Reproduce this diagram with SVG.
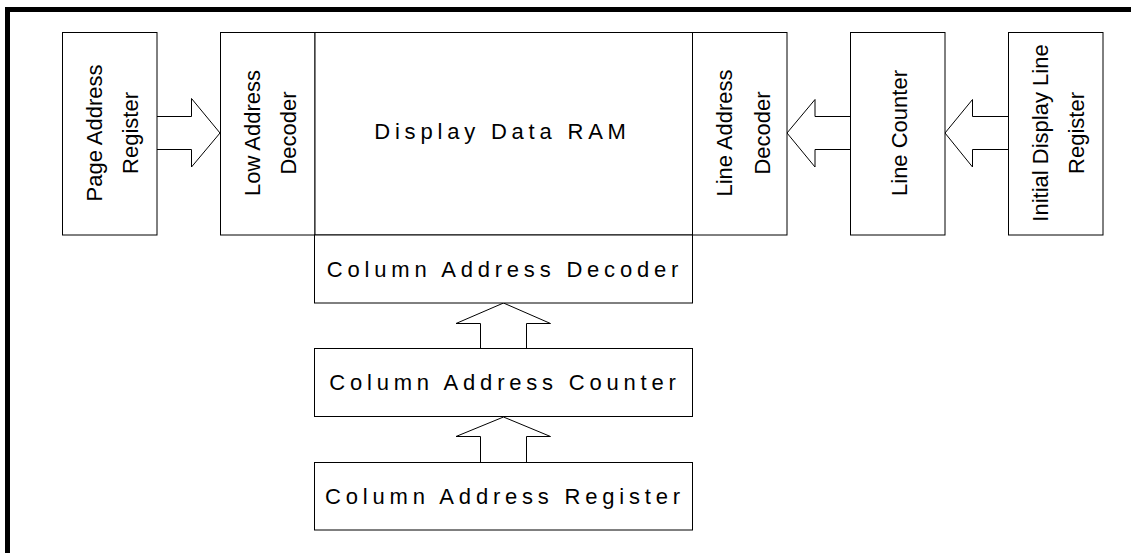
<svg xmlns="http://www.w3.org/2000/svg" width="1131" height="553" viewBox="0 0 1131 553">
<style>
.box{fill:#fff;stroke:#000;stroke-width:1}
.arr{fill:#fff;stroke:#000;stroke-width:1;stroke-linejoin:miter}
.t{font-family:"Liberation Sans",Arial,Helvetica,sans-serif;font-size:22px;fill:#000}
.h{text-anchor:middle;letter-spacing:4.8px}
.v{text-anchor:middle}
</style>
<rect x="0" y="0" width="1131" height="553" fill="#fff"/>
<path d="M7.5,553 V9.5 H1131" fill="none" stroke="#000" stroke-width="5"/>
<g id="connectors">
<polyline class="arr" points="157,116.5 191.5,116.5 191.5,98.5 220,133 191.5,167 191.5,149.5 157,149.5"/>
<polyline class="arr" points="850,116.5 815,116.5 815,99.5 787,133 815,167 815,149.5 850,149.5"/>
<polyline class="arr" points="1008,116.5 972.5,116.5 972.5,99.5 945,133 972.5,167 972.5,149.5 1008,149.5"/>
<polyline class="arr" points="480.5,348 480.5,323.5 456,323.5 503.5,303 550.5,323.5 526.5,323.5 526.5,348"/>
<polyline class="arr" points="480.5,462 480.5,436.5 456,436.5 503.5,417 550.5,436.5 526.5,436.5 526.5,462"/>
</g>
<g id="page-address-register">
<rect class="box" x="62.5" y="32.5" width="94.5" height="202.5"/>
<text class="t v" transform="rotate(-90)"><tspan x="-133" y="101.7">Page Address</tspan><tspan x="-133" y="137.5">Register</tspan></text>
</g>
<g id="low-address-decoder">
<rect class="box" x="220.5" y="32.5" width="94.5" height="202.5"/>
<text class="t v" transform="rotate(-90)"><tspan x="-133" y="259.5">Low Address</tspan><tspan x="-133" y="295.5">Decoder</tspan></text>
</g>
<g id="display-data-ram">
<rect class="box" x="315" y="32.5" width="377.5" height="202.5"/>
<text class="t h" x="502.5" y="139.3">Display Data RAM</text>
</g>
<g id="line-address-decoder">
<rect class="box" x="692.5" y="32.5" width="94.5" height="202.5"/>
<text class="t v" transform="rotate(-90)"><tspan x="-133" y="731.8">Line Address</tspan><tspan x="-133" y="769.8">Decoder</tspan></text>
</g>
<g id="line-counter">
<rect class="box" x="850.5" y="32.5" width="94.5" height="202.5"/>
<text class="t v" transform="rotate(-90)" x="-133" y="906.5">Line Counter</text>
</g>
<g id="initial-display-line-register">
<rect class="box" x="1008.5" y="32.5" width="94.5" height="202.5"/>
<text class="t v" transform="rotate(-90)"><tspan x="-133" y="1047.7">Initial Display Line</tspan><tspan x="-133" y="1084.3">Register</tspan></text>
</g>
<g id="column-address-decoder">
<rect class="box" x="314.5" y="235" width="378" height="68"/>
<text class="t h" x="505" y="276.5">Column Address Decoder</text>
</g>
<g id="column-address-counter">
<rect class="box" x="314.5" y="348.5" width="378" height="68"/>
<text class="t h" x="505" y="390">Column Address Counter</text>
</g>
<g id="column-address-register">
<rect class="box" x="314.5" y="462.5" width="378" height="67.5"/>
<text class="t h" x="505" y="503.5">Column Address Register</text>
</g>
</svg>
